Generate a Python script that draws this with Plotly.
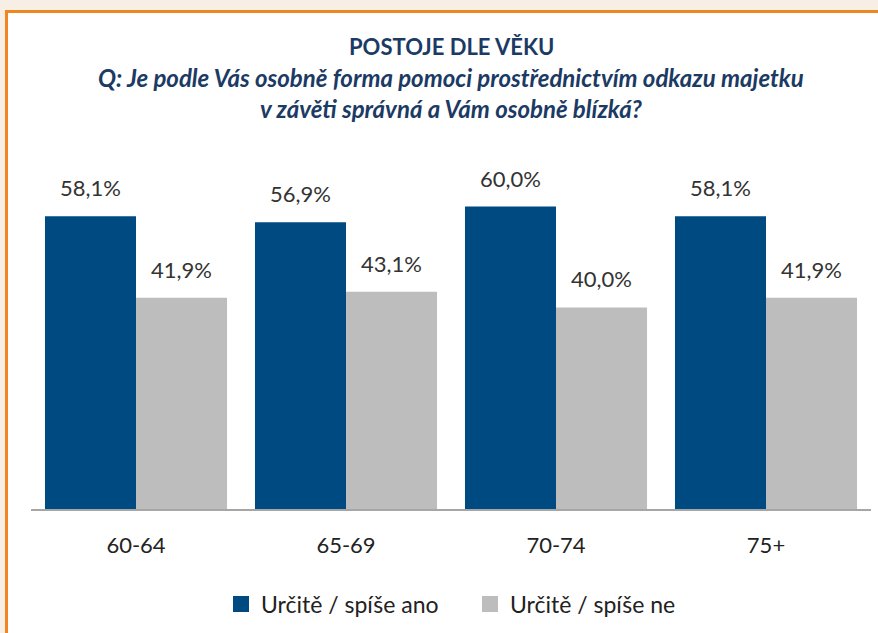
import plotly.graph_objects as go

categories = ["60-64", "65-69", "70-74", "75+"]
series_names = ["Určitě / spíše ano", "Určitě / spíše ne"]
yes_values = [58.1, 56.9, 60.0, 58.1]
no_values = [41.9, 43.1, 40.0, 41.9]
colors = ["#004A82", "#BDBDBD"]

title_main = "POSTOJE DLE VĚKU"
title_q = "Q: Je podle Vás osobně forma pomoci prostřednictvím odkazu majetku<br>v závěti správná a Vám osobně blízká?"

FONT = "Lato, Open Sans, sans-serif"
W, H = 878, 633
ML, MR, MT, MB = 31, 7, 156, 124
pw = W - ML - MR
ph = H - MT - MB
PX_PER_UNIT = 5.04

def px_to_paper_x(px):
    return (px - ML) / pw

def px_to_paper_y(py):
    return (H - MB - py) / ph

fig = go.Figure()
offsets = [-45.5, 45.5]
for name, vals, col, off in zip(series_names, [yes_values, no_values], colors, offsets):
    fig.add_trace(go.Bar(
        x=categories, y=vals, name=name,
        marker=dict(color=col, line=dict(width=0)),
        showlegend=False, hoverinfo="x+y",
    ))
    fig.add_trace(go.Scatter(
        x=[None], y=[None], mode="markers", name=name,
        marker=dict(symbol="square", size=17, color=col),
    ))
    for c, v in zip(categories, vals):
        fig.add_annotation(x=c, y=v, xshift=off, yshift=13, yanchor="bottom",
                           text=f"{v:.1f}%".replace(".", ","), showarrow=False,
                           font=dict(family=FONT, size=22, color="#333333"))

fig.add_shape(type="rect", xref="paper", yref="paper",
              x0=px_to_paper_x(6.5), x1=px_to_paper_x(900),
              y0=px_to_paper_y(660), y1=px_to_paper_y(11.5),
              line=dict(color="#F0861E", width=3), fillcolor="white", layer="below")

fig.add_annotation(text="<b>" + title_main + "</b>", xref="paper", yref="paper",
                   x=0.5, y=px_to_paper_y(46), xanchor="center", yanchor="middle",
                   showarrow=False,
                   font=dict(family=FONT, size=22, color="#1B3A64"))
fig.add_annotation(text="<b><i>" + title_q + "</i></b>", xref="paper", yref="paper",
                   x=0.5, y=px_to_paper_y(93), xanchor="center", yanchor="middle",
                   showarrow=False, align="center",
                   font=dict(family=FONT, size=24, color="#1B3A64"))

fig.update_layout(
    width=W, height=H,
    margin=dict(l=ML, r=MR, t=MT, b=MB),
    paper_bgcolor="#F7EFE5", plot_bgcolor="rgba(0,0,0,0)",
    barmode="group", bargap=0.133, bargroupgap=0,
    font=dict(family=FONT, color="#222222"),
    legend=dict(orientation="h", x=px_to_paper_x(221), xanchor="left",
                y=px_to_paper_y(604), yanchor="middle",
                font=dict(family=FONT, size=23, color="#222222"),
                bgcolor="rgba(0,0,0,0)", itemwidth=30,
                entrywidth=204, entrywidthmode="pixels"),
)
fig.update_xaxes(showline=True, linecolor="#A6A6A6", linewidth=1.5, ticks="",
                 tickfont=dict(family=FONT, size=22, color="#222222"),
                 ticklabelstandoff=16)
fig.update_yaxes(range=[0, ph / PX_PER_UNIT], visible=False, showgrid=False)

fig.write_html("out.html", config={"displayModeBar": False},
               post_script="document.body.style.margin='0';document.body.style.padding='0';")
